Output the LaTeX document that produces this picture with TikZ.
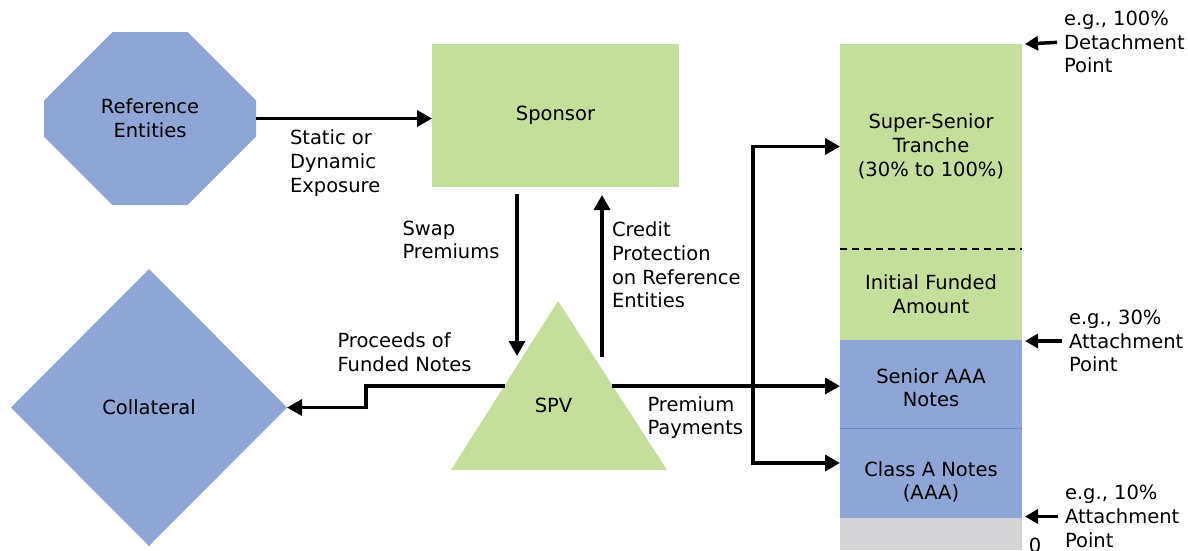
\documentclass[tikz,border=0pt]{standalone}
\usepackage{fontspec}
\setmainfont{DejaVu Sans}
\usetikzlibrary{shapes.geometric, shapes.misc, arrows.meta, positioning}

\definecolor{refblue}{HTML}{8EA5D6}
\definecolor{refgreen}{HTML}{C4DF9B}
\definecolor{refgray}{HTML}{D4D4D6}
\definecolor{ruleblue}{HTML}{5B8FD8}

\begin{document}
\begin{tikzpicture}[
    x=1pt, y=-1pt,
    every node/.style={font=\fontsize{19.5}{23.7}\selectfont, outer sep=0pt},
    >={Triangle[length=15pt, width=16pt]},
    entity/.style={fill=#1, draw=none, inner sep=0pt, align=center},
    tranche/.style={rectangle, fill=#1, minimum width=182pt, inner sep=0pt, align=center},
    note/.style={inner sep=0pt, align=left, anchor=west},
    arrow/.style={->, line width=3.5pt},
    marker/.style={-{Triangle[length=13pt, width=14pt]}, line width=3.5pt, shorten <=7pt}
]
\useasboundingbox (0,0) rectangle (1188,550);

% Parties
\node[entity=refblue, chamfered rectangle, chamfered rectangle xsep=49pt, chamfered rectangle ysep=50pt,
      minimum width=212pt, minimum height=173pt] (ref) at (150,118.5) {Reference\\Entities};
\node[entity=refgreen, rectangle, minimum width=247pt, minimum height=143pt] (sponsor) at (555.5,115.5) {Sponsor};
\node[entity=refblue, diamond, minimum width=276pt, minimum height=277pt] (coll) at (149,407.5) {Collateral};

% SPV triangle
\coordinate (apex) at (558,301);
\coordinate (baseL) at (451,470);
\coordinate (baseR) at (667,470);
\fill[refgreen] (apex) -- (baseR) -- (baseL) -- cycle;
\node (spv) at (553.5,405) {SPV};

% Tranche stack
\node[tranche=refgreen, minimum height=205pt] (super) at (931,146.5) {Super-Senior\\Tranche\\(30\% to 100\%)};
\node[tranche=refgreen, minimum height=91pt, below=0pt of super] (funded) {Initial Funded\\Amount};
\node[tranche=refblue, minimum height=88pt, text height=46pt, below=0pt of funded] (senior) {Senior AAA\\Notes};
\node[tranche=refblue, minimum height=90pt, text height=56pt, below=0pt of senior] (classa) {Class A Notes\\(AAA)};
\node[tranche=refgray, minimum height=32pt, below=0pt of classa] (equity) {};
\draw[line width=2pt, dash pattern=on 7pt off 5pt] (super.south west) -- (super.south east);
\draw[ruleblue, line width=1pt] (senior.south west) -- (senior.south east);

% Flow labels
\node[note] (exposure) at (290,163) {Static or\\Dynamic\\Exposure};
\node[note] (swaplbl) at (402.5,240) {Swap\\Premiums};
\node[note] (protlbl) at (612,265) {Credit\\Protection\\on Reference\\Entities};
\node[note] (proclbl) at (337.5,352.5) {Proceeds of\\Funded Notes};
\node[note] (premlbl) at (647.5,417.5) {Premium\\Payments};

% Attachment points
\node[note] (detach) at (1064,42) {e.g., 100\%\\Detachment\\Point};
\node[note] (attach30) at (1069,341) {e.g., 30\%\\Attachment\\Point};
\node[note] (attach10) at (1065,516.5) {e.g., 10\%\\Attachment\\Point};
\node (zero) at (1035,545) {0};

% Connectors
\coordinate (swap) at (517,356);
\coordinate (prot) at (602,357);
\coordinate (spvL) at (505,386);
\coordinate (spvR) at (612,386);
\coordinate (bus) at (753,386);

\draw[arrow] (ref.east) -- (ref.east -| sponsor.west);
\draw[arrow, shorten <=7pt] (sponsor.south -| swap) -- (swap);
\draw[arrow, shorten >=8pt] (prot) -- (prot |- sponsor.south);
\draw[arrow] (spvL) -- ++(-139,0) |- (coll.east);
\draw[arrow] (spvR) -- (spvR -| senior.west);
\draw[arrow] (bus) |- (super.west);
\draw[arrow] (bus) |- ([yshift=10pt]classa.west);

\draw[marker] (detach.west) -- ([xshift=3pt]super.north east);
\draw[marker] (attach30.west) -- ([xshift=3pt]attach30.west -| super.east);
\draw[marker] (attach10.west) -- ([xshift=3pt]attach10.west -| super.east);

\end{tikzpicture}
\end{document}
